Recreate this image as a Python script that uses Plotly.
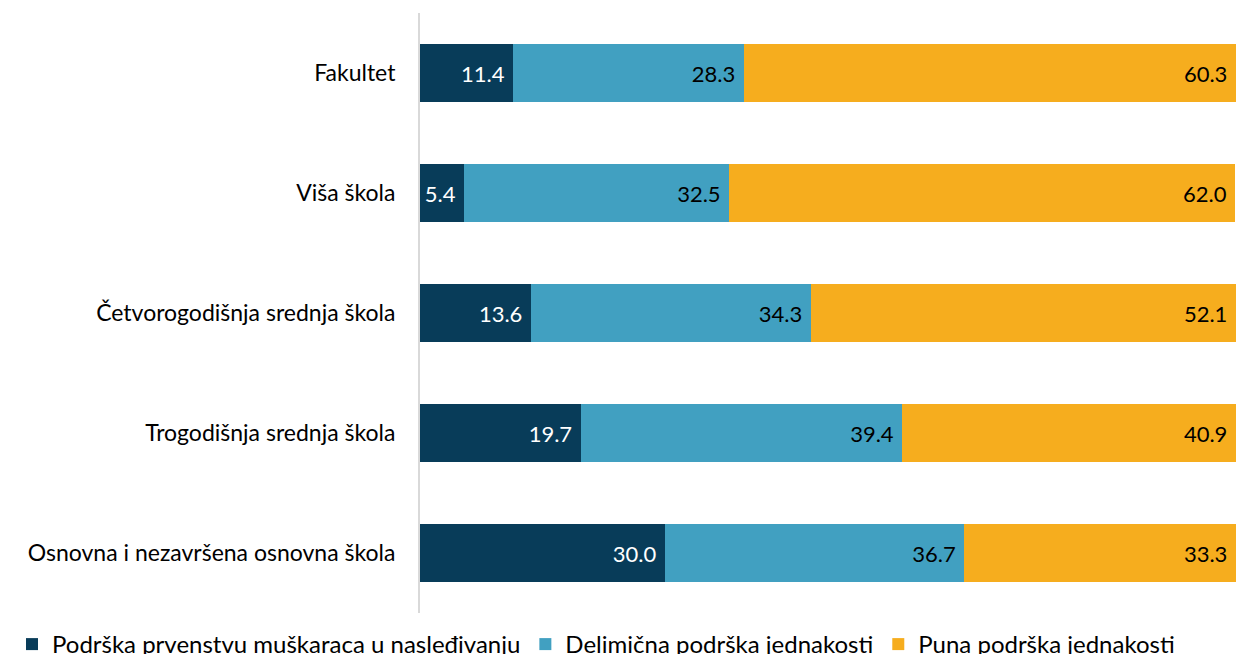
import plotly.graph_objects as go

categories = ["Osnovna i nezavršena osnovna škola", "Trogodišnja srednja škola",
              "Četvorogodišnja srednja škola", "Viša škola", "Fakultet"]
prvenstvo = [30.0, 19.7, 13.6, 5.4, 11.4]
delimicna = [36.7, 39.4, 34.3, 32.5, 28.3]
puna = [33.3, 40.9, 52.1, 62.0, 60.3]

series = [
    ("Podrška prvenstvu muškaraca u nasleđivanju", prvenstvo, "#083C59", "white"),
    ("Delimična podrška jednakosti", delimicna, "#41A0C1", "black"),
    ("Puna podrška jednakosti", puna, "#F6AD1E", "black"),
]

fig = go.Figure()
for name, vals, color, tcolor in series:
    fig.add_trace(go.Bar(
        y=categories, x=vals, name=name, orientation="h",
        marker=dict(color=color, line=dict(width=0)),
        # trailing nbsp gives the labels a bit more room from the segment end
        text=[f"{v:.1f}\u00a0" for v in vals], textposition="inside",
        insidetextanchor="end", textangle=0,
        textfont=dict(color=tcolor, size=22, family="Lato"),
    ))

fig.update_layout(
    barmode="stack", bargap=0.51,
    width=1236, height=654,
    margin=dict(l=420, r=0, t=13, b=41, autoexpand=False),
    paper_bgcolor="white", plot_bgcolor="white",
    font=dict(family="Lato", size=22, color="black"),
    uniformtext=dict(mode="show", minsize=22),
    xaxis=dict(range=[0, 100], visible=False),
    yaxis=dict(showline=True, linecolor="#d9d9d9", linewidth=2,
               ticks="", ticklabelstandoff=18, tickfont=dict(size=23)),
    legend=dict(orientation="h", x=-0.5, xanchor="left",
                y=-0.015, yanchor="top",
                font=dict(size=24), itemwidth=30, traceorder="normal"),
    showlegend=True,
)

# drop the page's default body margin / scrollbars so the figure sits at the window's corner
fig.write_html("out.html", config={"displayModeBar": False}, post_script=(
    "document.body.style.margin='0';"
    "document.body.style.overflow='hidden';"
    "document.documentElement.style.overflow='hidden';"))
